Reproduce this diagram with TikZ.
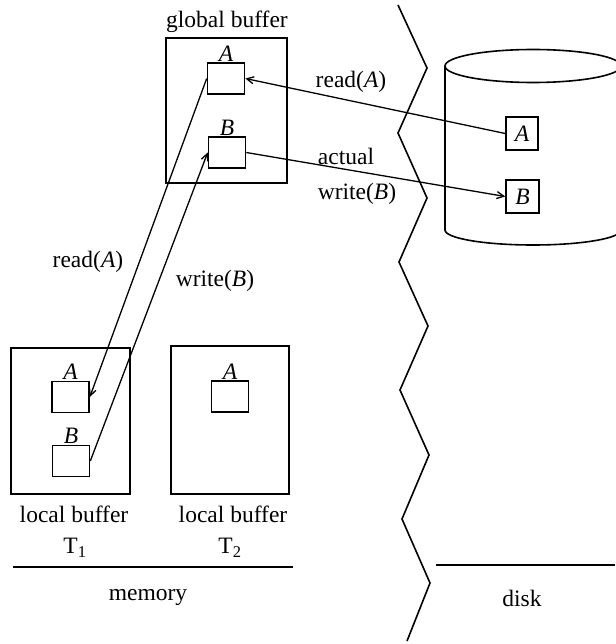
\documentclass[tikz,border=0pt]{standalone}
\usepackage{fontspec}
\setmainfont{Liberation Serif}
\usetikzlibrary{positioning,arrows.meta}
\begin{document}
\begin{tikzpicture}[x=1pt,y=-1pt,line width=1.6pt,>={Straight Barb[length=7pt,width=7pt]},
  buf/.style={draw,inner sep=0pt},
  cell/.style={draw,inner sep=0pt,minimum width=37pt,minimum height=31pt,font=\fontsize{23.5}{26}\selectfont},
  txt/.style={font=\fontsize{23.5}{26}\selectfont,inner sep=0pt}]
\useasboundingbox (0,0) rectangle (615,644);
% global buffer
\node[buf,minimum width=121pt,minimum height=145pt] (gbuf) at (226.5,110.5) {};
\node[txt] (gbuftxt) at (227,22) {global buffer};
\node[cell] (gA) at (226,78.5) {};
\node[cell] (gB) at (227,152.5) {};
\node[txt,above=0pt of gA] (gAtxt) {\textit{A}};
\node[txt,above=0pt of gB] (gBtxt) {\textit{B}};
% local buffers
\node[buf,minimum width=119pt,minimum height=146pt] (lbuf1) at (70.5,421) {};
\node[buf,minimum width=118pt,minimum height=148pt] (lbuf2) at (230,420) {};
\node[cell] (lA) at (70.5,397) {};
\node[cell] (lB) at (71,461) {};
\node[cell] (mA) at (230,396.5) {};
\node[txt,above=0pt of lA] (lAtxt) {\textit{A}};
\node[txt,above=0pt of lB] (lBtxt) {\textit{B}};
\node[txt,above=0pt of mA] (mAtxt) {\textit{A}};
\node[txt] (lbuf1txt) at (74,514) {local buffer};
\node[txt] (lbuf2txt) at (233,514) {local buffer};
\node[txt] (t1) at (75,548) {T\textsubscript{1}};
\node[txt] (t2) at (230,548) {T\textsubscript{2}};
\draw (13,567) -- (293,567);
\node[txt] (mem) at (148,597) {memory};
% disk
\draw (533,66) ellipse [x radius=88pt,y radius=16.5pt];
\draw (445,66) -- (445,230) arc[start angle=180,end angle=360,x radius=88pt,y radius=15pt] -- (621,66);
\node[cell,minimum width=32pt,minimum height=33pt] (dA) at (522,133.5) {\textit{A}};
\node[cell,minimum width=33pt,minimum height=33pt] (dB) at (522.5,196.5) {\textit{B}};
\draw (436,565) -- (615,565);
\node[txt] (dsk) at (522,598) {disk};
% zigzag border
\draw (398,5) -- (427,68) -- (398,133) -- (427,198) -- (399,262) -- (428,326) -- (400,390) -- (429,455) -- (402,519) -- (430,583) -- (407,641);
% transfers
\draw[->,line width=1.3pt] (dA.west) -- (gA.east);
\draw[->,line width=1.3pt] (gB.east) -- (dB.west);
\draw[->,line width=1.3pt] (gA.west) -- (lA.east);
\draw[->,line width=1.3pt] (lB.east) -- (gB.west);
\node[txt] (rdA) at (351,82) {read(\textit{A})};
\node[txt] (act) at (346,156) {actual};
\node[txt] (wrB) at (357,194) {write(\textit{B})};
\node[txt] (rdA2) at (88,262) {read(\textit{A})};
\node[txt] (wrB2) at (215,281) {write(\textit{B})};
\end{tikzpicture}
\end{document}
